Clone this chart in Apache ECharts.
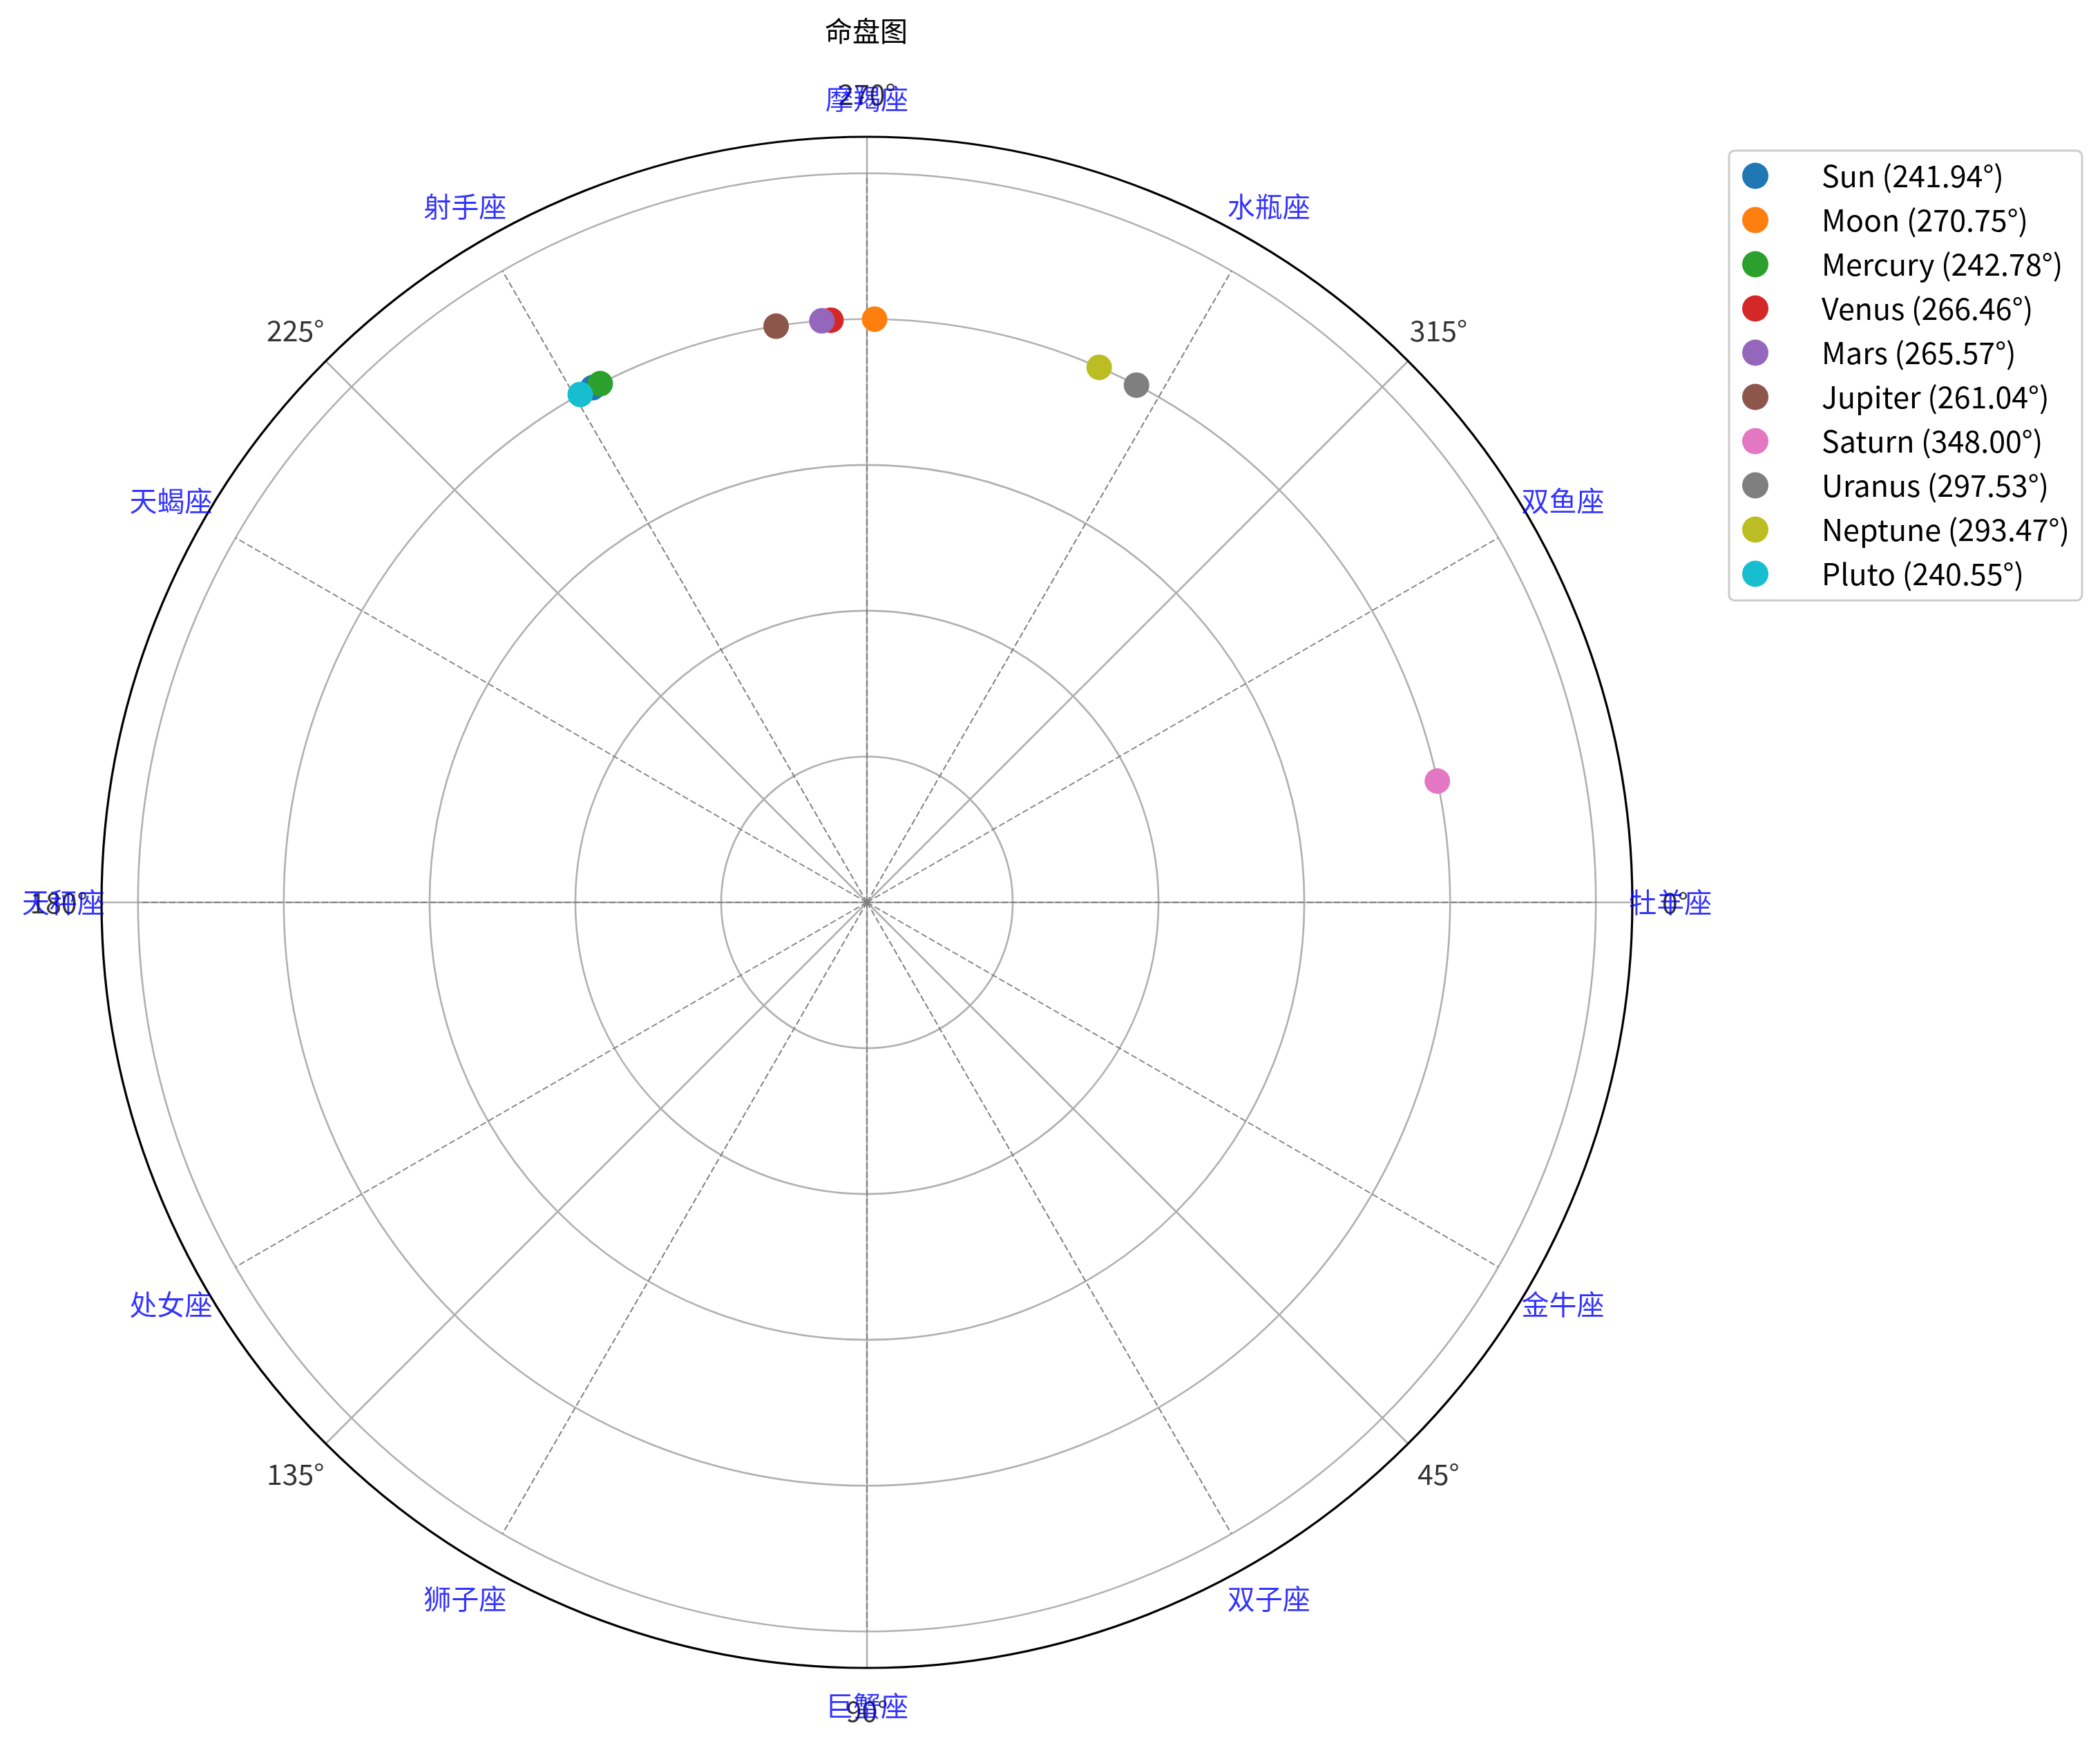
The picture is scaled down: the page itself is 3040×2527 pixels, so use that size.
<!DOCTYPE html>
<html>
<head>
<meta charset="utf-8">
<script src="https://cdn.jsdelivr.net/npm/echarts@6/dist/echarts.min.js"></script>
<style>
html,body{margin:0;padding:0;background:#fff;}
#chart{width:3040px;height:2527px;}
</style>
</head>
<body>
<div id="chart"></div>
<script>
// ---- data ----
const titleText = '命盘图';
const planetNames = ['Sun', 'Moon', 'Mercury', 'Venus', 'Mars', 'Jupiter', 'Saturn', 'Uranus', 'Neptune', 'Pluto'];
const planetDegrees = [241.94, 270.75, 242.78, 266.46, 265.57, 261.04, 348.00, 297.53, 293.47, 240.55];
const planetRadii = [1, 1, 1, 1, 1, 1, 1, 1, 1, 1];
const planetColors = ['#1f77b4', '#ff7f0e', '#2ca02c', '#d62728', '#9467bd', '#8c564b', '#e377c2', '#7f7f7f', '#bcbd22', '#17becf'];
const zodiacNames = ['牡羊座', '金牛座', '双子座', '巨蟹座', '狮子座', '处女座', '天秤座', '天蝎座', '射手座', '摩羯座', '水瓶座', '双鱼座'];
const zodiacAngles = [0, 30, 60, 90, 120, 150, 180, 210, 240, 270, 300, 330];
const degreeTicks = [0, 45, 90, 135, 180, 225, 270, 315];
const degreeTickLabels = ['0°', '45°', '90°', '135°', '180°', '225°', '270°', '315°'];
const radialTicks = [0.25, 0.5, 0.75, 1.0, 1.25];
const radialMax = 1.3125;
const boundaryRadius = 1.25;
const zodiacLabelRadius = 1.378;
const degreeLabelRadius = 1.386;

// ---- build ----
const FONT = '"Noto Sans CJK SC", "Noto Sans", sans-serif';
const chart = echarts.init(document.getElementById('chart'), null, {renderer: 'canvas'});

const boundaryData = [];
zodiacAngles.forEach(a => {
  boundaryData.push([0, a]);
  boundaryData.push([boundaryRadius, a]);
  boundaryData.push(['-', '-']);
});

const legendNames = planetNames.map((n, i) => `${n} (${planetDegrees[i].toFixed(2)}°)`);

const series = [];
series.push({
  type: 'line',
  coordinateSystem: 'polar',
  data: boundaryData,
  symbol: 'none',
  connectNulls: false,
  silent: true,
  lineStyle: {color: '#808080', width: 2, type: [9, 4]},
  z: 2
});
planetNames.forEach((n, i) => {
  series.push({
    name: legendNames[i],
    type: 'scatter',
    coordinateSystem: 'polar',
    data: [[planetRadii[i], planetDegrees[i]]],
    symbol: 'circle',
    symbolSize: 37,
    itemStyle: {color: planetColors[i], opacity: 1},
    clip: false,
    z: 3
  });
});
series.push({
  type: 'scatter',
  coordinateSystem: 'polar',
  data: degreeTicks.map(a => [degreeLabelRadius, a]),
  symbolSize: 0,
  clip: false,
  silent: true,
  label: {
    show: true, position: 'inside',
    formatter: p => degreeTickLabels[p.dataIndex],
    color: '#000', fontSize: 41, fontFamily: FONT
  },
  z: 4
});
series.push({
  type: 'scatter',
  coordinateSystem: 'polar',
  data: zodiacAngles.map(a => [zodiacLabelRadius, a]),
  symbolSize: 0,
  clip: false,
  silent: true,
  label: {
    show: true, position: 'inside',
    formatter: p => zodiacNames[p.dataIndex],
    color: '#0000ff', fontSize: 40, fontFamily: FONT
  },
  z: 5
});

const option = {
  animation: false,
  backgroundColor: '#ffffff',
  title: {
    text: titleText,
    left: 1194, top: 25, padding: 0,
    textStyle: {fontSize: 40, fontWeight: 'normal', color: '#000', fontFamily: FONT}
  },
  legend: {
    orient: 'vertical',
    left: 2503, top: 218,
    data: legendNames,
    icon: 'circle',
    itemWidth: 80, itemHeight: 38,
    itemGap: 21,
    padding: [15, 18, 17, 19],
    borderColor: '#cccccc', borderWidth: 3, borderRadius: 8,
    backgroundColor: '#ffffff',
    textStyle: {fontSize: 43, color: '#000', fontFamily: FONT, lineHeight: 38, padding: [0, 0, 0, 51]}
  },
  polar: {center: [1255, 1306], radius: 1108},
  angleAxis: {
    type: 'value', min: 0, max: 360, interval: 45,
    startAngle: 0, clockwise: true,
    axisLine: {show: true, lineStyle: {color: '#000', width: 3.2}},
    axisTick: {show: false},
    axisLabel: {show: false},
    splitLine: {show: true, lineStyle: {color: '#b0b0b0', width: 2.6}}
  },
  radiusAxis: {
    type: 'value', min: 0, max: radialMax, interval: radialTicks[1] - radialTicks[0],
    axisLine: {show: false}, axisTick: {show: false}, axisLabel: {show: false},
    splitLine: {show: true, lineStyle: {color: ['#b0b0b0', '#b0b0b0', '#b0b0b0', '#b0b0b0', '#b0b0b0', '#b0b0b0', 'rgba(0,0,0,0)'], width: 2.6}}
  },
  series: series
};
chart.setOption(option);
</script>
</body>
</html>
